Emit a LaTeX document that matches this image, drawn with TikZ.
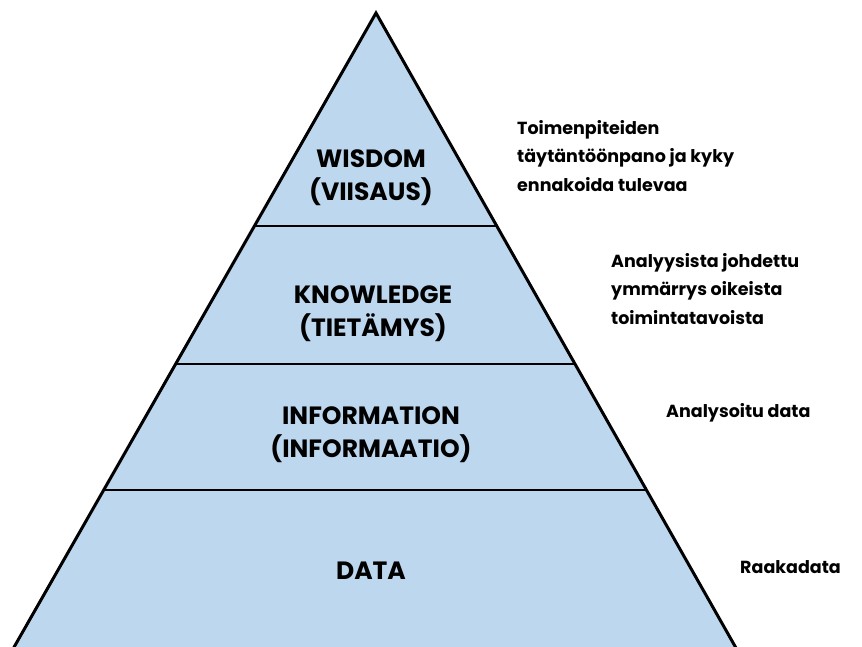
\documentclass[tikz,border=0pt]{standalone}
\usepackage{fontspec}
\setmainfont{Poppins}
\usetikzlibrary{calc}
\definecolor{layerblue}{HTML}{BDD7EE}
\tikzset{
  layer/.style={font=\bfseries\fontsize{25}{33}\selectfont, align=center, anchor=center, inner sep=0pt},
  note/.style={font=\bfseries\fontsize{17.5}{28.5}\selectfont, align=left, anchor=north west, inner sep=0pt},
  edge/.style={line width=3pt, line join=miter},
  divider/.style={line width=2.5pt}
}
\begin{document}
\begin{tikzpicture}[x=1pt, y=-1pt]
\useasboundingbox (0,0) rectangle (862,646);
\begin{scope}
\clip (0,0) rectangle (862,646);
% pyramid outline (base lies below the lower edge)
\coordinate (apex) at (376,13);
\coordinate (bl) at (15,646);
\coordinate (br) at (735,646);
\coordinate (blx) at (6.1,661);
\coordinate (brx) at (743.4,661);
\fill[layerblue] (apex) -- (blx) -- (brx) -- cycle;
\draw[edge] (blx) -- (apex) -- (brx);
% level dividers
\draw[divider] ($(apex)!0.3365!(bl)$) coordinate (d1l) -- ($(apex)!0.3365!(br)$) coordinate (d1r);
\draw[divider] ($(apex)!0.5545!(bl)$) coordinate (d2l) -- ($(apex)!0.5545!(br)$) coordinate (d2r);
\draw[divider] ($(apex)!0.7536!(bl)$) coordinate (d3l) -- ($(apex)!0.7536!(br)$) coordinate (d3r);
\end{scope}
% level labels
\node[layer] (wisdom) at (371,178) {WISDOM\\(VIISAUS)};
\node[layer] (knowledge) at (373,314) {KNOWLEDGE\\(TIETÄMYS)};
\node[layer] (information) at (371,435) {INFORMATION\\(INFORMAATIO)};
\node[layer] (data) at (371,571) {DATA};
% descriptions
\node[note] (n1) at (517,120) {Toimenpiteiden\\täytäntöönpano ja kyky\\ennakoida tulevaa};
\node[note] (n2) at (611,253) {Analyysista johdettu\\ymmärrys oikeista\\toimintatavoista};
\node[note] (n3) at (666,403) {Analysoitu data};
\node[note] (n4) at (740,560) {Raakadata};
\end{tikzpicture}
\end{document}
